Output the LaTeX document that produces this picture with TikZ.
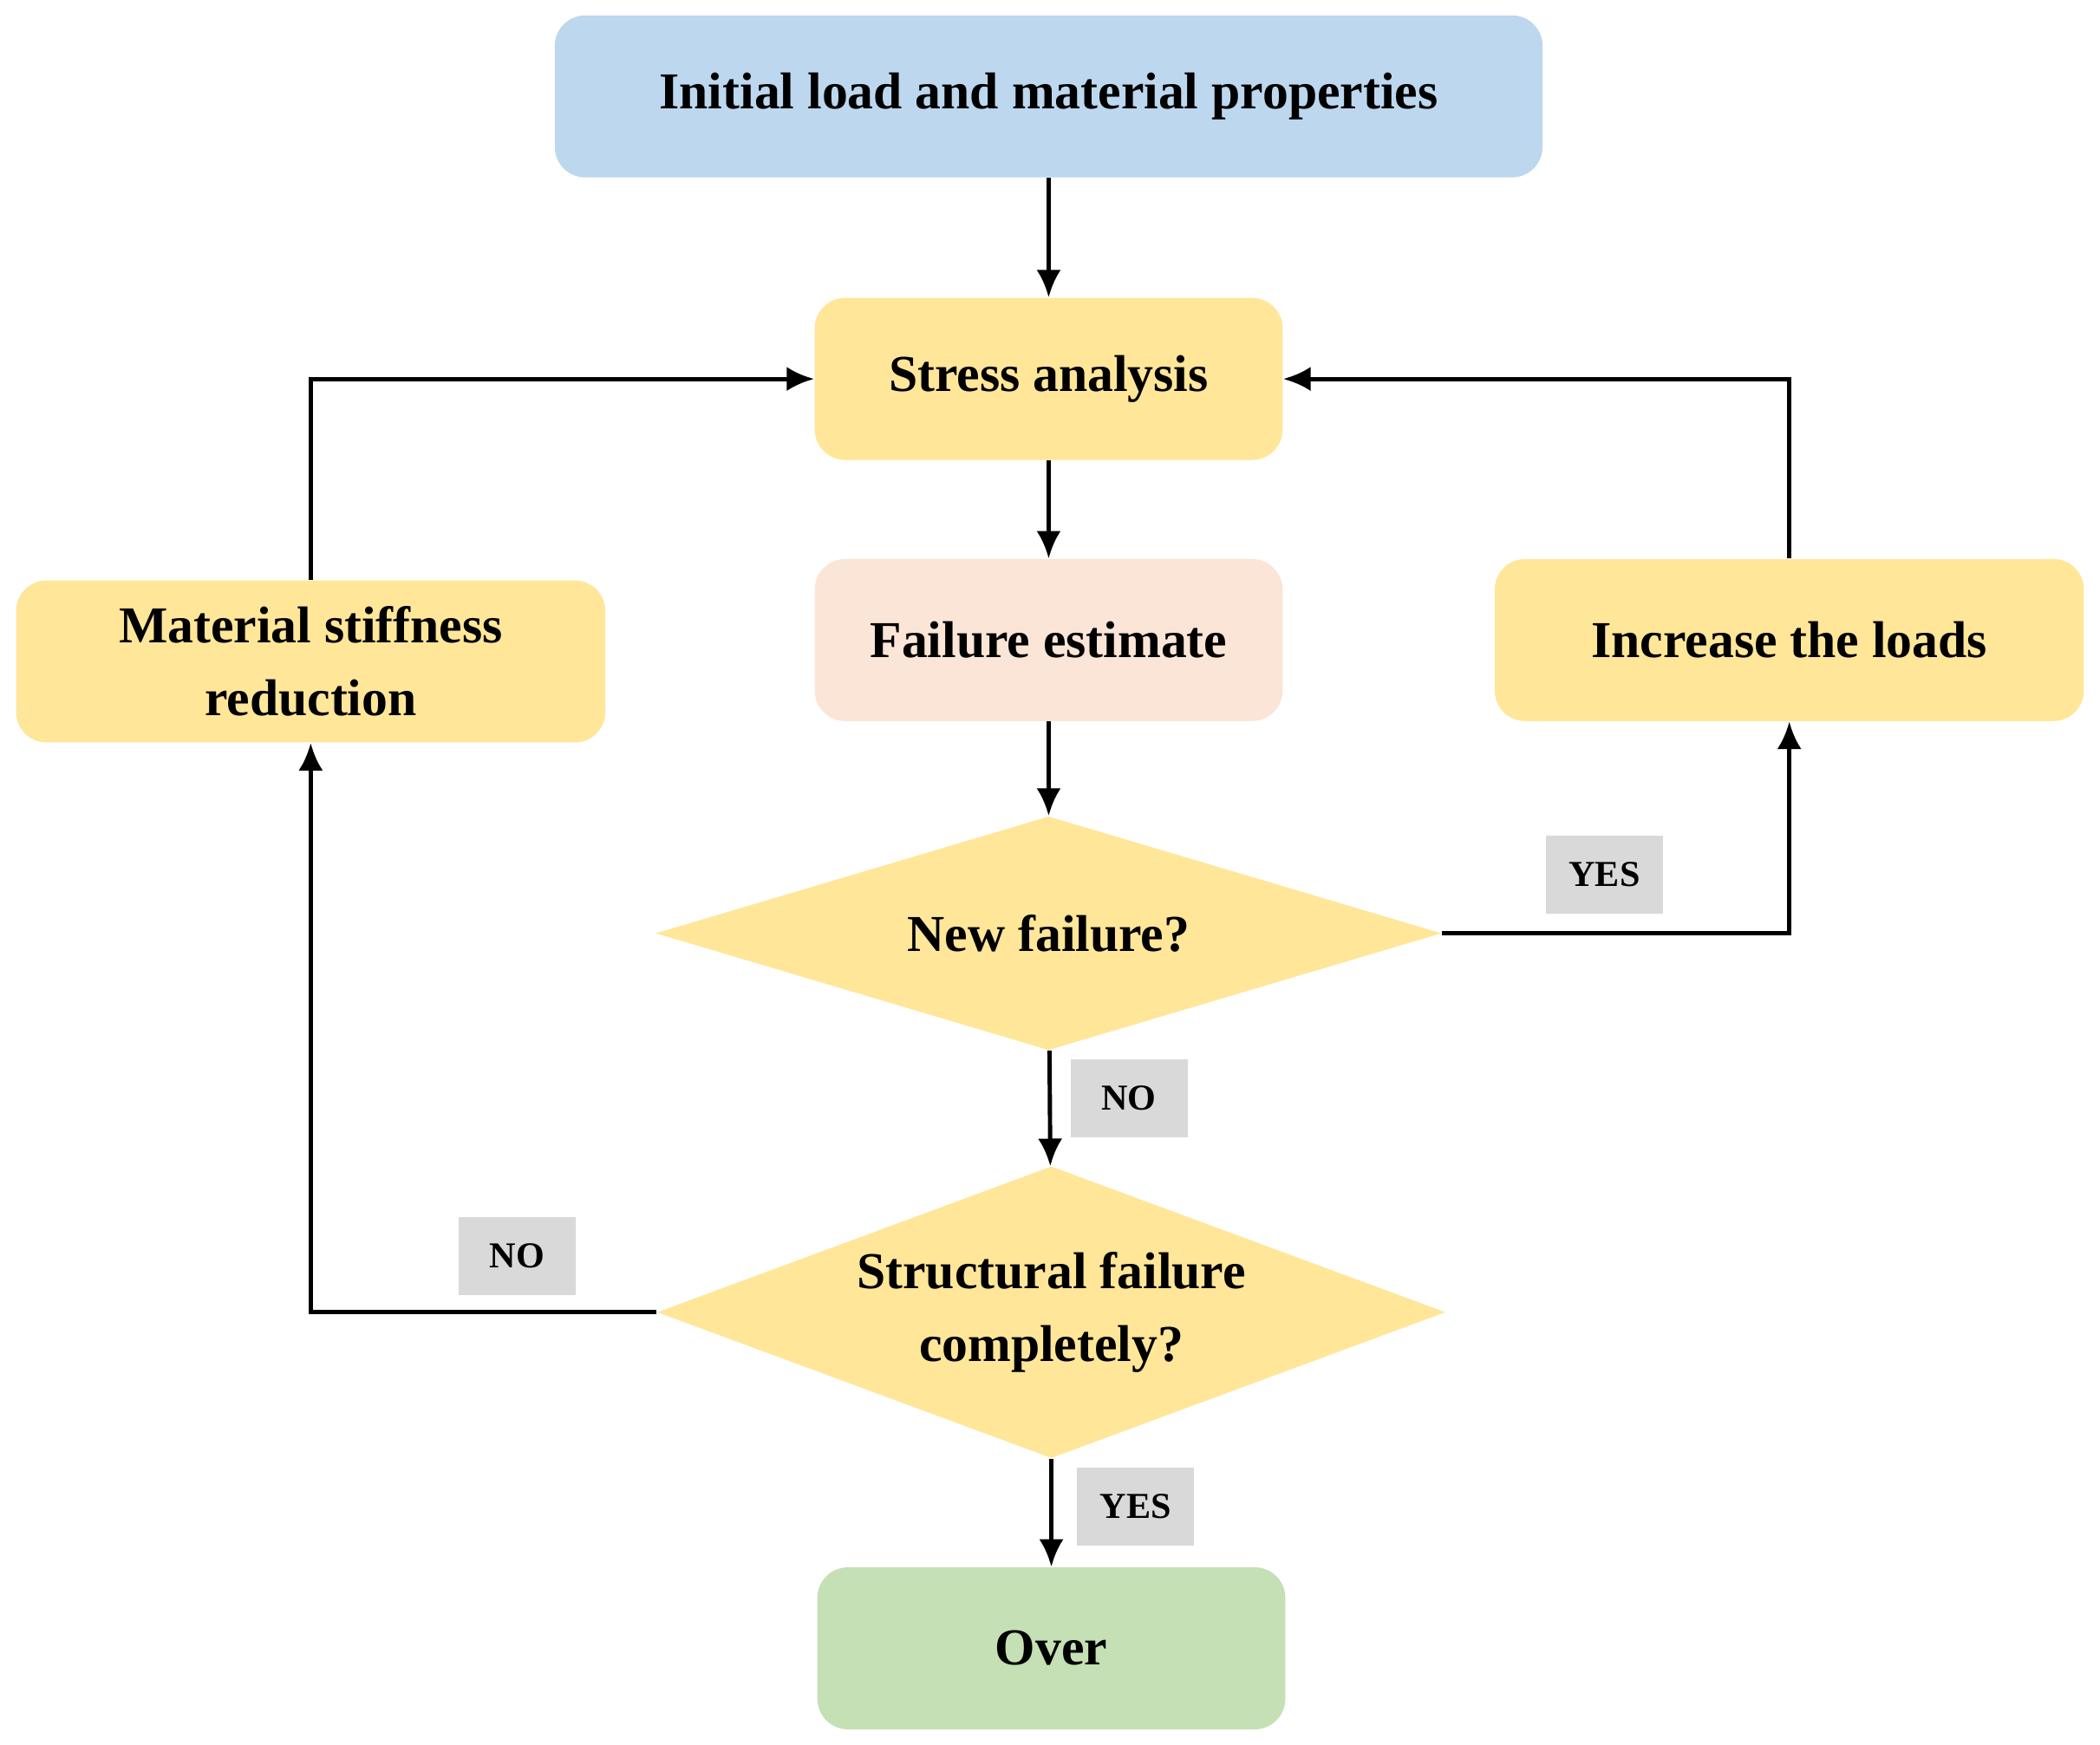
\documentclass[tikz,border=0pt]{standalone}
\usepackage{fontspec}
\setmainfont{Liberation Serif}
\usetikzlibrary{shapes.geometric,arrows.meta}
\definecolor{cblue}{HTML}{BDD7EE}
\definecolor{cyel}{HTML}{FFE699}
\definecolor{cpink}{HTML}{FBE5D6}
\definecolor{cgreen}{HTML}{C5E0B4}
\definecolor{cgray}{HTML}{D9D9D9}
\begin{document}
\begin{tikzpicture}[x=0.01545cm,y=-0.01545cm,
  box/.style={rounded corners=10pt,draw=none,align=center,font=\fontsize{17}{24}\selectfont\bfseries,minimum height=1.87cm},
  dia/.style={diamond,fill=cyel,align=center,font=\fontsize{17}{24}\selectfont\bfseries,inner sep=0pt,aspect=3.3},
  lab/.style={fill=cgray,font=\fontsize{12}{14}\selectfont\bfseries,minimum width=1.35cm,minimum height=0.9cm,inner sep=2pt},
  arr/.style={draw,line width=1.4pt,-{Latex[length=9pt,width=8pt]}}]
\useasboundingbox (0,0) rectangle (1568,1303);
\node[box,fill=cblue,minimum width=11.4cm] (init) at (783,72) {Initial load and material properties};
\node[box,fill=cyel,minimum width=5.4cm] (stress) at (783,283) {Stress analysis};
\node[box,fill=cpink,minimum width=5.4cm] (fail) at (783,478) {Failure estimate};
\node[box,fill=cyel,minimum width=6.8cm] (mat) at (232,494) {Material stiffness\\reduction};
\node[box,fill=cyel,minimum width=6.8cm] (inc) at (1336,478) {Increase the loads};
\node[dia,minimum width=9.07cm,minimum height=2.7cm] (d1) at (783,697) {New failure?};
\node[dia,minimum width=9.1cm,minimum height=3.37cm] (d2) at (785,980) {Structural failure\\completely?};
\node[box,fill=cgreen,minimum width=5.4cm] (over) at (785,1231) {Over};
\node[lab] (l1) at (1198,653) {YES};
\node[lab] (l2) at (843,820) {NO};
\node[lab] (l3) at (386,938) {NO};
\node[lab] (l4) at (848,1125) {YES};
\draw[arr] (init) -- (stress);
\draw[arr] (stress) -- (fail);
\draw[arr] (fail) -- (d1);
\draw[arr] (d1.east) -| (inc.south);
\draw[arr] (inc.north) |- (stress.east);
\draw[arr] (d1) -- (d2);
\draw[arr] (d2.west) -| (mat.south);
\draw[arr] (mat.north) |- (stress.west);
\draw[arr] (d2) -- (over);
\end{tikzpicture}
\end{document}
